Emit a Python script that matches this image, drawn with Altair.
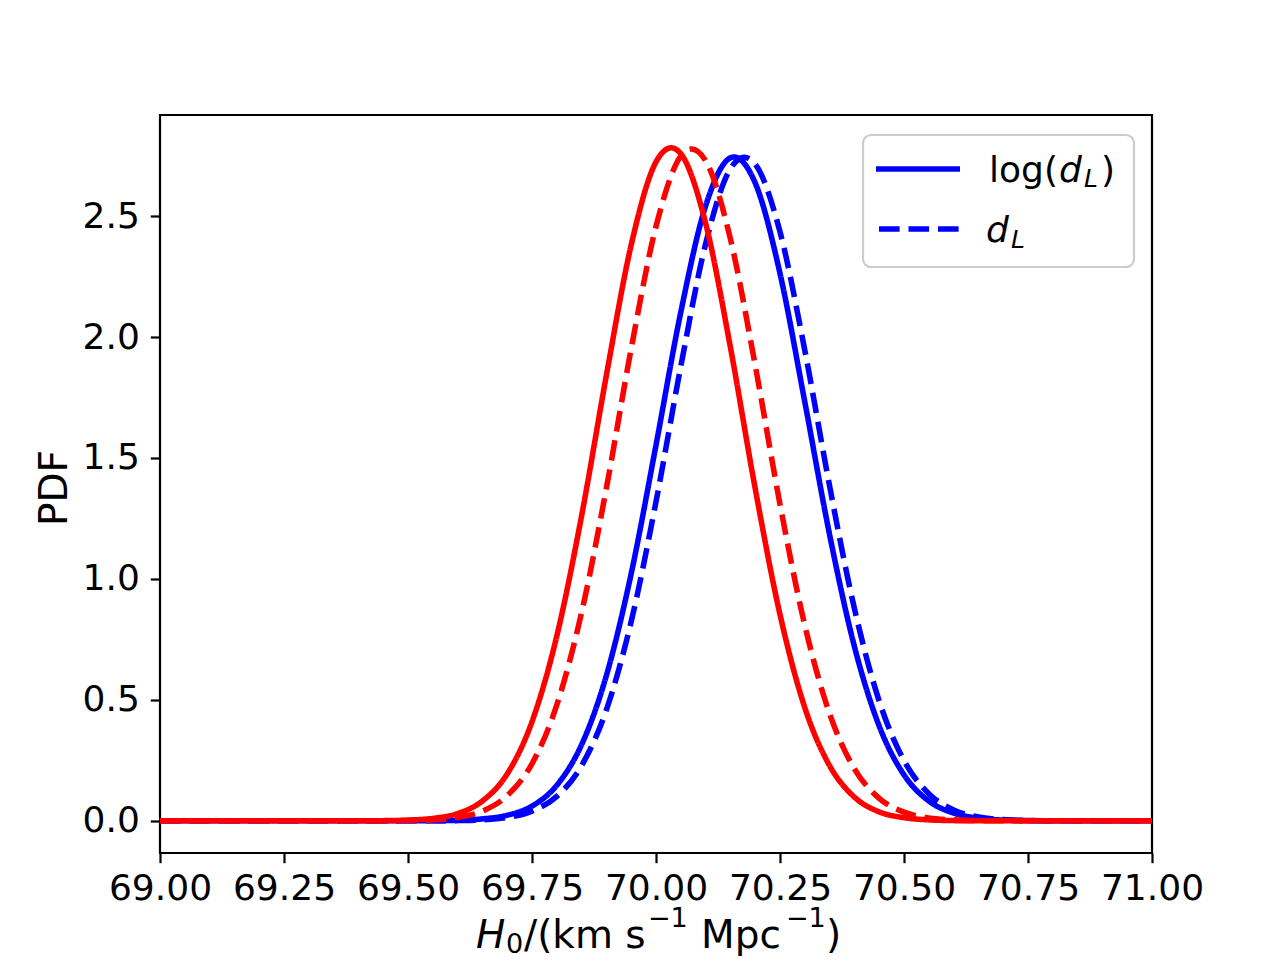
import altair as alt
import pandas as pd

# H0 grid (km s^-1 Mpc^-1)
h0 = [69.00, 69.30, 69.35, 69.40, 69.45, 69.50, 69.55, 69.60, 69.65, 69.70,
      69.75, 69.80, 69.85, 69.90, 69.95, 70.00, 70.05, 70.10, 70.15, 70.20,
      70.25, 70.30, 70.35, 70.40, 70.45, 70.50, 70.55, 70.60, 70.65, 70.70,
      70.75, 70.80, 70.85, 70.90, 71.00]

# PDFs
red_log_dl = [0, 0, 0, 0.0001, 0.0007, 0.003, 0.010, 0.030, 0.082, 0.194,
              0.410, 0.764, 1.261, 1.842, 2.381, 2.724, 2.758, 2.471, 1.958, 1.374,
              0.853, 0.468, 0.228, 0.098, 0.037, 0.013, 0.004, 0.001, 0.0002, 0,
              0, 0, 0, 0, 0]
red_dl = [0, 0, 0, 0, 0.0003, 0.0012, 0.004, 0.014, 0.040, 0.104,
          0.236, 0.479, 0.861, 1.376, 1.952, 2.457, 2.748, 2.729, 2.406, 1.883,
          1.309, 0.808, 0.443, 0.215, 0.093, 0.036, 0.012, 0.004, 0.001, 0.0002,
          0, 0, 0, 0, 0]
blue_log_dl = [0, 0, 0, 0, 0, 0.0001, 0.0006, 0.002, 0.008, 0.023,
               0.061, 0.147, 0.315, 0.601, 1.022, 1.553, 2.103, 2.542, 2.741, 2.637,
               2.263, 1.732, 1.183, 0.721, 0.392, 0.190, 0.082, 0.032, 0.011, 0.003,
               0.001, 0.0002, 0, 0, 0]
blue_dl = [0, 0, 0, 0, 0, 0, 0.0003, 0.001, 0.004, 0.014,
           0.040, 0.101, 0.228, 0.459, 0.824, 1.319, 1.879, 2.385, 2.696, 2.715,
           2.435, 1.945, 1.384, 0.878, 0.495, 0.249, 0.112, 0.045, 0.016, 0.005,
           0.0014, 0.0003, 0, 0, 0]

x_ticks = [69.0, 69.25, 69.5, 69.75, 70.0, 70.25, 70.5, 70.75, 71.0]
y_ticks = [0.0, 0.5, 1.0, 1.5, 2.0, 2.5]

series = [
    ("blue_log", blue_log_dl, "#0000ff", [1, 0]),
    ("blue_dl", blue_dl, "#0000ff", [20.6, 8.9]),
    ("red_log", red_log_dl, "#ff0000", [1, 0]),
    ("red_dl", red_dl, "#ff0000", [20.6, 8.9]),
]

rows = []
for name, vals, _, _ in series:
    for xv, yv in zip(h0, vals):
        rows.append({"h0": xv, "pdf": yv, "series": name})
df = pd.DataFrame(rows)

FONT = "DejaVu Sans"
FS = 36      # tick labels, legend
TFS = 39     # axis titles
SUB = 27     # sub/superscripts in the x title
W, H = 992, 738

x_enc = alt.X("h0:Q", scale=alt.Scale(domain=[69, 71], nice=False, zero=False),
              axis=alt.Axis(values=x_ticks, format=".2f", title=None, grid=False,
                            domain=False, tickSize=9.7, tickWidth=2.2, tickColor="black",
                            labelFont=FONT, labelFontSize=FS, labelColor="black",
                            labelPadding=9, labelFlush=False, labelOverlap=False))
y_enc = alt.Y("pdf:Q", scale=alt.Scale(domain=[-0.133, 2.918], nice=False, zero=False),
              axis=alt.Axis(values=y_ticks, format=".1f", title=None, grid=False,
                            domain=False, tickSize=9.7, tickWidth=2.2, tickColor="black",
                            labelFont=FONT, labelFontSize=FS, labelColor="black",
                            labelPadding=11, labelFlush=False, labelOverlap=False))

layers = []
for name, _, col, dash in series:
    layers.append(
        alt.Chart(df).transform_filter(alt.datum.series == name)
        .mark_line(color=col, strokeWidth=5.56, strokeDash=dash,
                   interpolate="cardinal", clip=True)
        .encode(x=x_enc, y=y_enc)
    )

one = pd.DataFrame({"k": [0]})

def txt(s, x, y, size=FS, style="normal", align="left", baseline="alphabetic", angle=0):
    return alt.Chart(one).mark_text(
        font=FONT, fontSize=size, fontStyle=style, align=align, baseline=baseline,
        angle=angle, color="black"
    ).encode(x=alt.value(x), y=alt.value(y), text=alt.value(s))

# Legend box and samples
legend_box = alt.Chart(one).mark_rect(
    fill="white", fillOpacity=0.8, stroke="#cccccc", strokeWidth=2.2, cornerRadius=8
).encode(x=alt.value(703), x2=alt.value(974), y=alt.value(20), y2=alt.value(152))
leg_solid = alt.Chart(one).mark_rule(color="#0000ff", strokeWidth=5.56).encode(
    x=alt.value(716), x2=alt.value(800), y=alt.value(54))
leg_dash = alt.Chart(one).mark_rule(color="#0000ff", strokeWidth=5.56,
                                    strokeDash=[20.6, 8.9]).encode(
    x=alt.value(719), x2=alt.value(800), y=alt.value(114))

B = 833  # x-title baseline (plot coordinates)
texts = [
    txt("log(", 829, 67),
    txt("d", 899, 67, style="italic"),
    txt("L", 924, 72, size=25, style="italic"),
    txt(")", 941, 67),
    txt("d", 826, 127, style="italic"),
    txt("L", 851, 133, size=25, style="italic"),
    # x title: H_0/(km s^-1 Mpc^-1)
    txt("H", 316, B, size=TFS, style="italic"),
    txt("0", 346, B + 5, size=SUB),
    txt("/(km s", 364, B, size=TFS),
    txt("\u22121", 488, B - 21, size=SUB),
    txt("Mpc", 541, B, size=TFS),
    txt("\u22121", 626, B - 21, size=SUB),
    txt(")", 666, B, size=TFS),
    # y title
    txt("PDF", -93, 373, size=TFS, align="center", baseline="alphabetic", angle=270),
]

chart = alt.layer(*layers, legend_box, leg_solid, leg_dash, *texts).properties(
    width=W, height=H,
    padding={"left": 152, "top": 107, "right": 112, "bottom": 130},
    autosize=alt.AutoSizeParams(type="none"),
    background="white",
).configure_view(stroke="black", strokeWidth=2.2)

chart.save("out.html", embed_options={"renderer": "svg", "actions": False})
